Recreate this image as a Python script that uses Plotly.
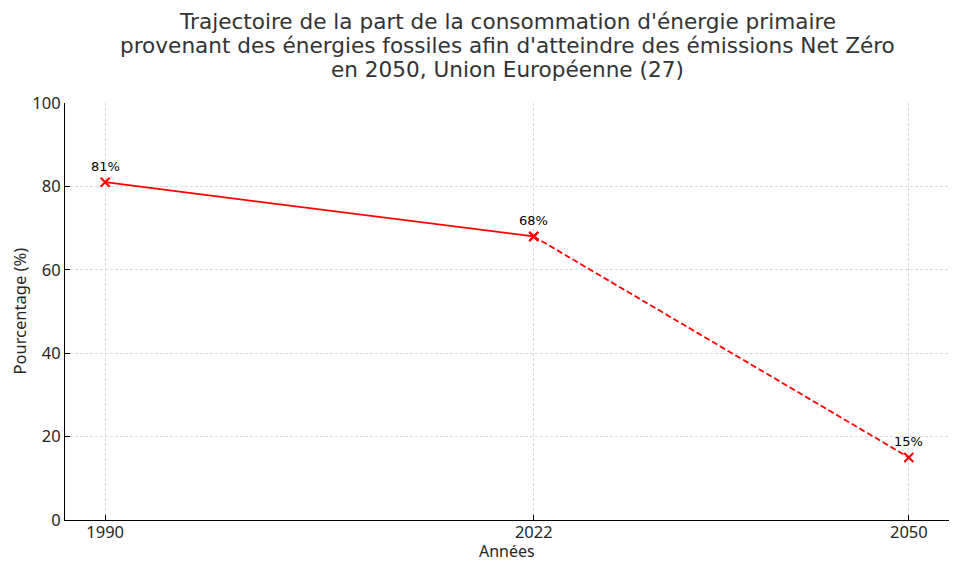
import plotly.graph_objects as go

years_hist = [1990, 2022]
share_hist = [81, 68]
years_proj = [2022, 2050]
share_proj = [68, 15]
label_years = [1990, 2022, 2050]
label_values = [81, 68, 15]
label_texts = ["81%", "68%", "15%"]
x_ticks = [1990, 2022, 2050]
y_ticks = [0, 20, 40, 60, 80, 100]
title_lines = [
    "Trajectoire de la part de la consommation d'énergie primaire",
    "provenant des énergies fossiles afin d'atteindre des émissions Net Zéro",
    "en 2050, Union Européenne (27)",
]

fig = go.Figure()
fig.add_trace(go.Scatter(
    x=years_hist, y=share_hist, mode="lines+markers",
    line=dict(color="red", width=1.8),
    marker=dict(symbol="x-thin", size=9, line=dict(color="red", width=2)),
    showlegend=False,
))
fig.add_trace(go.Scatter(
    x=years_proj, y=share_proj, mode="lines+markers",
    line=dict(color="red", width=1.8, dash="6px,3px"),
    marker=dict(symbol="x-thin", size=9, line=dict(color="red", width=2)),
    showlegend=False,
))

# Value labels above each point
for x, y, t in zip(label_years, label_values, label_texts):
    fig.add_annotation(x=x, y=y, text=t, showarrow=False, yshift=16,
                       font=dict(family="DejaVu Sans", size=13, color="black"))

# Title, one annotation per line to keep the tight line spacing
for i, line in enumerate(title_lines):
    fig.add_annotation(x=0.5, y=1.1966 - i * 0.0576, xref="paper", yref="paper",
                       text=line, showarrow=False, xanchor="center", yanchor="middle",
                       font=dict(family="DejaVu Sans", size=21.6, color="#333333"))

# Axis titles
fig.add_annotation(x=0.5, y=-0.0755, xref="paper", yref="paper", text="Années",
                   showarrow=False, yanchor="middle", borderpad=0,
                   font=dict(family="Noto Sans", size=16, color="#262626"))
fig.add_annotation(x=-0.052, y=0.5, xref="paper", yref="paper", text="Pourcentage (%)",
                   showarrow=False, textangle=-90, xanchor="center", yanchor="middle", borderpad=0,
                   font=dict(family="Noto Sans", size=16.5, color="#262626"))

# page body has an 8px margin, so the figure is 8px smaller than the window
fig.update_layout(
    width=950, height=554,
    plot_bgcolor="white", paper_bgcolor="white",
    margin=dict(l=57, r=9, t=95, b=42, autoexpand=False),
    font=dict(family="Noto Sans", color="#262626"),
)
fig.update_xaxes(
    range=[1987, 2053], tickvals=x_ticks, automargin=False, ticklabelstandoff=-3,
    showline=True, linecolor="black", linewidth=1, ticks="inside", ticklen=5, tickcolor="black",
    showgrid=True, gridcolor="#dadada", griddash="3px,2px", gridwidth=0.8,
    tickfont=dict(size=16.5), zeroline=False,
)
fig.update_yaxes(
    range=[0, 100], tickvals=y_ticks, automargin=False,
    showline=True, linecolor="black", linewidth=1, ticks="inside", ticklen=5, tickcolor="black",
    showgrid=True, gridcolor="#dadada", griddash="3px,2px", gridwidth=0.8,
    tickfont=dict(size=16.5), zeroline=False,
)

fig.write_html("out.html")
